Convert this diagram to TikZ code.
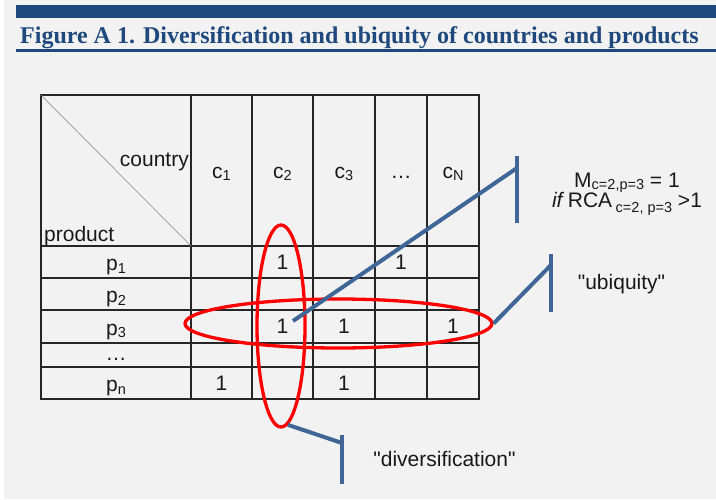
\documentclass[tikz,border=0pt]{standalone}
\usepackage{fontspec}
\setmainfont{Liberation Sans}[Ligatures=TeXOff]
\newfontfamily\titlefont{Liberation Serif}
\usetikzlibrary{shapes.geometric}
\definecolor{navy}{HTML}{1F497D}
\definecolor{leadcol}{HTML}{3F6696}
\definecolor{bgcol}{HTML}{F2F2F2}
\newcommand{\lowtxt}[1]{\raisebox{-2.5pt}{\fontsize{14.5}{14.5}\selectfont #1}}
\newcommand{\lowertxt}[1]{\raisebox{-5pt}{\fontsize{14.5}{14.5}\selectfont #1}}
\begin{document}
\begin{tikzpicture}[x=1pt,y=-1pt,
  grid/.style={draw=black!85, line width=1.3pt},
  cell/.style={font=\fontsize{21}{21}\selectfont, inner sep=0pt, text=black!90},
  ring/.style={ellipse, draw=red, line width=3.3pt, inner sep=0pt},
  leaderline/.style={draw=leadcol, line width=4pt},
  note/.style={font=\fontsize{21}{21}\selectfont, inner sep=0pt, text=black!90}]
\useasboundingbox (0,0) rectangle (716,499);
\fill[white] (0,0) rectangle (716,499);
\fill[bgcol] (4,0) rectangle (716,499);
\fill[navy] (16,5) rectangle (716,18);
\fill[navy] (16,49) rectangle (716,52);
\node[anchor=base west, text=navy, font=\titlefont\bfseries\fontsize{24}{24}\selectfont, inner sep=0pt] (title) at (20,43) {Figure A 1. Diversification and ubiquity of countries and products};
% table grid
\draw[grid] (41,95) rectangle (479,399);
\foreach \x in {191,252,313,375,427} \draw[grid] (\x,95) -- (\x,399);
\foreach \y in {246,278,310,343,367} \draw[grid] (41,\y) -- (479,\y);
\draw[black!40, line width=0.7pt] (41,95) -- (191,246);
% header
\node[cell, anchor=base east] (country) at (189,166) {country};
\node[cell, anchor=base west] (product) at (44,241) {product};
\node[cell, anchor=base] (hc1) at (221.5,178) {c\lowtxt{1}};
\node[cell, anchor=base] (hc2) at (282.5,178) {c\lowtxt{2}};
\node[cell, anchor=base] (hc3) at (344,178) {c\lowtxt{3}};
\node[cell, anchor=base] (hdots) at (401,178) {\dots};
\node[cell, anchor=base] (hcN) at (453,178) {c\lowtxt{N}};
% row labels
\node[cell, anchor=base] (rp1) at (116,270.5) {p\lowtxt{1}};
\node[cell, anchor=base] (rp2) at (116,302.5) {p\lowtxt{2}};
\node[cell, anchor=base] (rp3) at (116,335) {p\lowtxt{3}};
\node[cell, anchor=base] (rdots) at (116,360) {\dots};
\node[cell, anchor=base] (rpn) at (116,391.5) {p\lowtxt{n}};
% entries
\node[cell, anchor=base] (one12) at (282.5,269.5) {1};
\node[cell, anchor=base] (one1d) at (401,269.5) {1};
\node[cell, anchor=base] (one32) at (282.5,333.5) {1};
\node[cell, anchor=base] (one33) at (344,333.5) {1};
\node[cell, anchor=base] (one3N) at (453,333.5) {1};
\node[cell, anchor=base] (onen1) at (221.5,390) {1};
\node[cell, anchor=base] (onen3) at (344,390) {1};
% ellipses
\node[ring, minimum width=307pt, minimum height=49pt] (uring) at (338.5,323.5) {};
\node[ring, minimum width=48pt, minimum height=202pt] (dring) at (281,326) {};
% leaders
\coordinate (mtail) at (293,321);
\coordinate (mjoin) at (517,168);
\coordinate (mtop) at (517,156);
\coordinate (mbot) at (517,223);
\draw[leaderline] (mtail) -- (mjoin);
\draw[leaderline] (mtop) -- (mbot);
\coordinate (ujoin) at (551,265);
\coordinate (utop) at (551,254);
\coordinate (ubot) at (551,312);
\draw[leaderline] (uring.east) -- (ujoin);
\draw[leaderline] (utop) -- (ubot);
\coordinate (djoin) at (342,443);
\coordinate (dtop) at (342,435);
\coordinate (dbot) at (342,484);
\draw[leaderline] (dring.-86) -- (djoin);
\draw[leaderline] (dtop) -- (dbot);
% notes
\node[note, anchor=base] (mnote) at (627,187) {M\lowtxt{c=2,p=3} = 1};
\node[note, anchor=base] (rcanote) at (627,207) {\textit{if}\,RCA\,\lowertxt{c=2, p=3} >1};
\node[note, anchor=base] (ubiq) at (621.5,289) {"ubiquity"};
\node[note, anchor=base] (divers) at (444.5,466) {"diversification"};
\end{tikzpicture}
\end{document}
